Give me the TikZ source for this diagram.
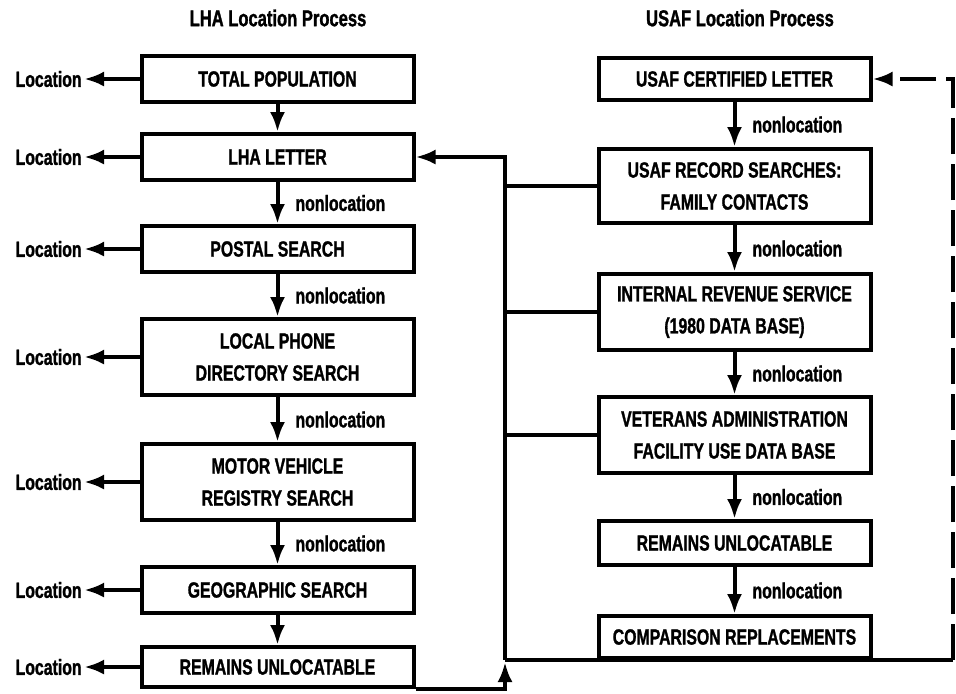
\documentclass[tikz,border=0pt]{standalone}
\usepackage{fontspec}
\setmainfont{Liberation Sans}[FakeStretch=0.72, BoldFeatures={FakeBold=1.2}]
\usetikzlibrary{arrows.meta}

\begin{document}
\begin{tikzpicture}[x=0.5pt, y=-0.5pt,
    box/.style={draw, line width=2pt, minimum width=136pt, inner sep=0pt, align=center,
        font=\bfseries\fontsize{11}{16}\selectfont},
    loc/.style={font=\bfseries\fontsize{11}{12}\selectfont, inner sep=1pt},
    nonloc/.style={font=\bfseries\fontsize{11}{12}\selectfont, anchor=west, inner sep=0pt},
    title/.style={font=\bfseries\fontsize{11.5}{12}\selectfont},
    arr/.style={line width=2pt, -{Latex[length=10pt,width=7.5pt]}},
    line/.style={line width=2pt}]
    \useasboundingbox (0,0) rectangle (956,693);
    \node[title] (lhatitle) at (278,18) {LHA Location Process};
    \node[title] (usaftitle) at (740,18) {USAF Location Process};
    \node[box, minimum height=23pt] (total) at (277.5,79) {TOTAL POPULATION};
    \node[box, minimum height=23pt] (lhaletter) at (277.5,157) {LHA LETTER};
    \node[box, minimum height=23pt] (postal) at (277.5,249) {POSTAL SEARCH};
    \node[box, minimum height=38pt] (phone) at (277.5,357) {LOCAL PHONE\\DIRECTORY SEARCH};
    \node[box, minimum height=38pt] (motor) at (277.5,482) {MOTOR VEHICLE\\REGISTRY SEARCH};
    \node[box, minimum height=23pt] (geo) at (277.5,590) {GEOGRAPHIC SEARCH};
    \node[box, minimum height=20pt] (lharem) at (277.5,667) {REMAINS UNLOCATABLE};
    \foreach \b/\y in {total/79, lhaletter/157, postal/249, phone/357, motor/482, geo/590, lharem/667}
    {
        \node[loc, anchor=east] (loc\b) at (84,\y) {Location};
        \draw[arr] (\b.west) -- (loc\b.east);
    }
    \draw[arr] (total) -- (lhaletter);
    \draw[arr] (lhaletter) -- node[nonloc, xshift=8pt] (nl1) {nonlocation} (postal);
    \draw[arr] (postal) -- node[nonloc, xshift=8pt] (nl2) {nonlocation} (phone);
    \draw[arr] (phone) -- node[nonloc, xshift=8pt] (nl3) {nonlocation} (motor);
    \draw[arr] (motor) -- node[nonloc, xshift=8pt] (nl4) {nonlocation} (geo);
    \draw[arr] (geo) -- (lharem);
    \node[box, minimum height=21pt] (cert) at (734.5,79) {USAF CERTIFIED LETTER};
    \node[box, minimum height=37pt] (record) at (734.5,186) {USAF RECORD SEARCHES:\\FAMILY CONTACTS};
    \node[box, minimum height=38pt] (irs) at (734.5,312) {INTERNAL REVENUE SERVICE\\(1980 DATA BASE)};
    \node[box, minimum height=38pt] (va) at (734.5,435) {VETERANS ADMINISTRATION\\FACILITY USE DATA BASE};
    \node[box, minimum height=22pt] (usafrem) at (734.5,543) {REMAINS UNLOCATABLE};
    \node[box, minimum height=21pt] (comp) at (734.5,637) {COMPARISON REPLACEMENTS};
    \draw[arr] (cert) -- node[nonloc, xshift=8pt] (nl5) {nonlocation} (record);
    \draw[arr] (record) -- node[nonloc, xshift=8pt] (nl6) {nonlocation} (irs);
    \draw[arr] (irs) -- node[nonloc, xshift=8pt] (nl7) {nonlocation} (va);
    \draw[arr] (va) -- node[nonloc, xshift=8pt] (nl8) {nonlocation} (usafrem);
    \draw[arr] (usafrem) -- node[nonloc, xshift=8pt] (nl9) {nonlocation} (comp);
    \coordinate (bustop) at (505,157);
    \coordinate (busbot) at (505,660);
    \coordinate (loopbot) at (953,660);
    \coordinate (looptop) at (953,79);
    \draw[arr] (busbot) -- (bustop) -- (lhaletter.east);
    \foreach \b in {record, irs, va}
        \draw[line] (\b.west) -- (\b.west -| busbot);
    \draw[arr] (lharem.south east) -- (lharem.south east -| busbot) -- ([yshift=-1pt]busbot);
    \draw[line] (busbot) -- (comp.south west) -- (comp.south east) -- (loopbot);
    \draw[arr, dash pattern=on 18pt off 5pt] (loopbot) -- (looptop) -- (cert.east);
\end{tikzpicture}
\end{document}
